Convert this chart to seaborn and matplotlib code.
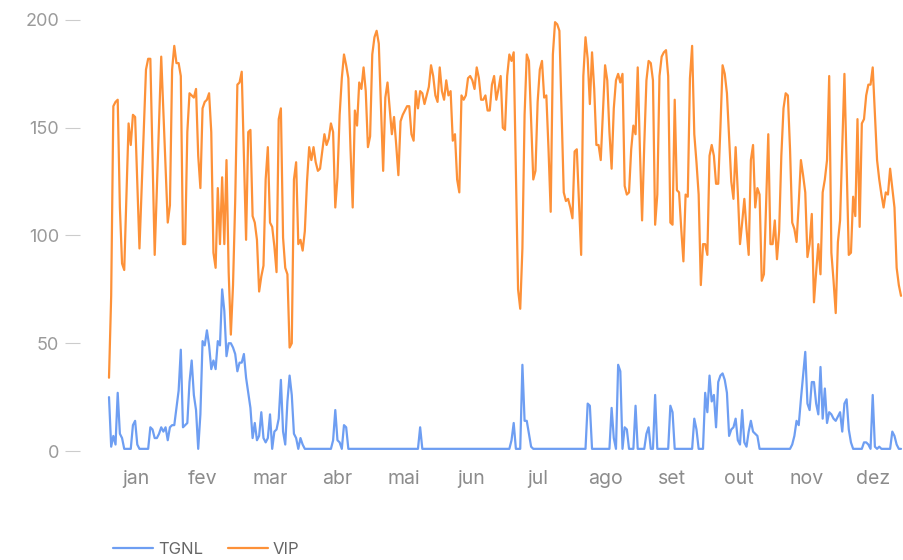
import numpy as np
import pandas as pd
import seaborn as sns
import matplotlib.pyplot as plt

meses = ['jan', 'fev', 'mar', 'abr', 'mai', 'jun', 'jul', 'ago', 'set', 'out', 'nov', 'dez']
y_ticks = [0, 50, 100, 150, 200]

# valores diários (jan -> dez)
vip = [
    34, 72, 160, 162, 163, 113, 87, 84, 118, 152, 142, 156, 155, 125, 94, 122, 149, 177, 182, 182, 136, 91, 122, 152, 183, 157, 132, 106, 114, 177, 188,
    180, 180, 174, 96, 96, 148, 166, 165, 164, 168, 137, 122, 159, 162, 163, 166, 148, 92, 85, 122, 96, 127, 96, 135, 83, 54, 77, 116,
    170, 171, 176, 137, 98, 148, 149, 109, 106, 98, 74, 81, 86, 126, 141, 106, 104, 95, 83, 154, 159, 99, 85, 82, 48, 50, 126, 134, 96, 98, 93,
    102, 125, 141, 135, 141, 134, 130, 131, 139, 147, 142, 145, 152, 148, 113, 127, 156, 173, 184, 179, 173, 140, 113, 158, 151, 171, 168, 178, 167, 141,
    146, 184, 192, 195, 189, 160, 130, 164, 171, 159, 147, 155, 142, 128, 153, 156, 158, 160, 160, 147, 144, 167, 159, 167, 166, 161, 165, 169, 179, 174, 165,
    162, 178, 167, 163, 172, 165, 167, 144, 147, 126, 120, 165, 163, 165, 173, 174, 172, 168, 178, 173, 163, 163, 165, 158, 158, 170, 174, 163, 168, 174,
    150, 149, 174, 184, 181, 185, 130, 75, 66, 94, 156, 184, 181, 154, 126, 130, 162, 177, 181, 164, 165, 140, 111, 184, 199, 198, 195, 158, 120, 116, 117,
    113, 108, 139, 140, 115, 91, 174, 192, 182, 161, 185, 168, 142, 142, 135, 157, 179, 172, 148, 131, 159, 172, 175, 171, 175, 123, 119, 120, 140, 151, 147,
    178, 140, 107, 142, 172, 181, 180, 172, 105, 119, 174, 183, 185, 186, 174, 106, 105, 163, 121, 120, 103, 88, 119, 118, 173, 188, 147, 134, 119, 77,
    96, 96, 91, 137, 142, 137, 124, 124, 150, 179, 175, 166, 145, 125, 117, 141, 120, 96, 106, 117, 103, 91, 135, 142, 113, 122, 119, 79, 82, 115, 147,
    96, 96, 107, 89, 102, 137, 159, 166, 165, 140, 106, 103, 97, 115, 135, 128, 120, 90, 96, 110, 69, 83, 96, 82, 120, 126, 135, 174, 92, 79,
    64, 97, 107, 141, 175, 133, 91, 92, 118, 109, 154, 104, 152, 154, 165, 170, 170, 178, 157, 135, 126, 119, 113, 120, 119, 131, 122, 113, 85, 77, 72,
]

tgnl = [
    25, 2, 7, 3, 27, 8, 6, 1, 1, 1, 1, 12, 14, 3, 1, 1, 1, 1, 1, 11, 10, 6, 6, 8, 11, 9, 11, 5, 11, 12, 12,
    20, 28, 47, 11, 12, 13, 32, 42, 26, 19, 1, 17, 51, 49, 56, 49, 38, 42, 38, 51, 49, 75, 65, 44, 50, 50, 48, 45,
    37, 41, 41, 45, 34, 27, 20, 6, 13, 5, 7, 18, 6, 4, 6, 17, 1, 9, 10, 15, 33, 9, 3, 23, 35, 26, 8, 6, 1, 6, 3,
    1, 1, 1, 1, 1, 1, 1, 1, 1, 1, 1, 1, 1, 5, 19, 5, 4, 1, 12, 11, 1, 1, 1, 1, 1, 1, 1, 1, 1, 1,
    1, 1, 1, 1, 1, 1, 1, 1, 1, 1, 1, 1, 1, 1, 1, 1, 1, 1, 1, 1, 1, 1, 1, 11, 1, 1, 1, 1, 1, 1, 1,
    1, 1, 1, 1, 1, 1, 1, 1, 1, 1, 1, 1, 1, 1, 1, 1, 1, 1, 1, 1, 1, 1, 1, 1, 1, 1, 1, 1, 1, 1,
    1, 1, 1, 1, 5, 13, 1, 1, 1, 40, 14, 14, 8, 2, 1, 1, 1, 1, 1, 1, 1, 1, 1, 1, 1, 1, 1, 1, 1, 1, 1,
    1, 1, 1, 1, 1, 1, 1, 1, 22, 21, 1, 1, 1, 1, 1, 1, 1, 1, 1, 20, 6, 1, 40, 37, 1, 11, 10, 1, 1, 1, 21,
    1, 1, 1, 1, 8, 11, 1, 1, 26, 1, 1, 1, 1, 1, 1, 21, 18, 1, 1, 1, 1, 1, 1, 1, 1, 1, 15, 10, 1, 1,
    1, 27, 18, 35, 23, 26, 11, 32, 35, 36, 33, 27, 7, 10, 11, 15, 5, 3, 19, 4, 2, 9, 14, 9, 8, 7, 1, 1, 1, 1, 1,
    1, 1, 1, 1, 1, 1, 1, 1, 1, 1, 3, 7, 14, 12, 24, 35, 46, 22, 19, 32, 32, 22, 17, 39, 15, 29, 13, 18, 17, 15,
    14, 16, 18, 9, 22, 24, 10, 4, 1, 1, 1, 1, 1, 4, 4, 3, 1, 26, 2, 1, 2, 1, 1, 1, 1, 1, 9, 7, 3, 1, 1,
]

dias = np.arange(len(vip))
df = pd.DataFrame({'dia': dias, 'TGNL': tgnl, 'VIP': vip})
df = df.melt(id_vars='dia', var_name='serie', value_name='valor')

sns.set_theme(style='white')
plt.rcParams['font.family'] = ['Inter', 'DejaVu Sans']

fig = plt.figure(figsize=(9.04, 5.6), dpi=100)
ax = fig.add_axes([109 / 904, 109 / 560, 792 / 904, 431 / 560])

cores = {'TGNL': '#6e9ef2', 'VIP': '#fd9138'}
sns.lineplot(data=df, x='dia', y='valor', hue='serie', palette=cores,
             linewidth=1.6, ax=ax)
for linha in ax.lines:
    linha.set_clip_on(False)

ax.set_xlim(0, len(vip) - 1)
ax.set_ylim(0, 200)
ax.set_xlabel('')
ax.set_ylabel('')

for lado in ['top', 'right', 'bottom']:
    ax.spines[lado].set_visible(False)
ax.spines['left'].set_position(('outward', 21))
ax.spines['left'].set_visible(False)

ax.set_yticks(y_ticks)
ax.tick_params(axis='y', left=True, length=11, width=0.8, color='#cccccc',
               labelcolor='#9a9a9a', labelsize=13, pad=4)

# rótulos dos meses igualmente espaçados
ax.set_xticks(np.linspace(12.4, 351.2, len(meses)))
ax.set_xticklabels(meses)
ax.tick_params(axis='x', bottom=False, length=0, pad=14, labelsize=14,
               labelcolor='#8c8c8c')

handles, labels = ax.get_legend_handles_labels()
leg = ax.legend(handles, labels, loc='center left', ncol=2, frameon=False,
                bbox_to_anchor=(113 / 904, 11 / 560), bbox_transform=fig.transFigure,
                fontsize=12, handlelength=2.4, handletextpad=0.3,
                columnspacing=1.5, borderpad=0, borderaxespad=0)
for t in leg.get_texts():
    t.set_color('#666666')

fig.savefig('out.png', dpi=100)
